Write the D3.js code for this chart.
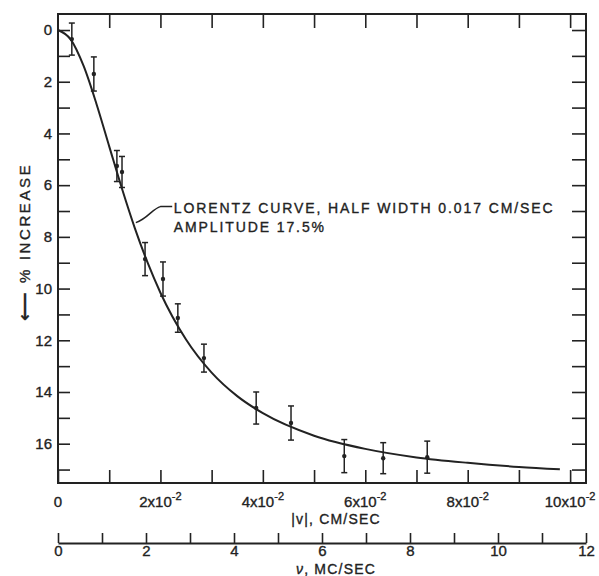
<!DOCTYPE html>
<html lang="en">
<head>
  <meta charset="UTF-8">
  <title>% increase vs |v|</title>
  <style>
    body { margin: 0; background: #fff; }
    svg text { font-family: "Liberation Sans Narrow", "Liberation Sans", Arial, sans-serif; fill: #222; stroke: #222; stroke-width: 0.35; }
    .axis path, .axis line { stroke: #222; fill: none; }
  </style>
  <script src="https://d3js.org/d3.v7.min.js"></script>
</head>
<body>
  <svg id="chart" width="599" height="576"></svg>
  <script>
    // measured points, |v| in units of 10^-2 cm/sec
    const velocity = [0.27, 0.70, 1.15, 1.25, 1.70, 2.05, 2.34, 2.85, 3.87, 4.55, 5.59, 6.35, 7.21];
    const increase = [0.35, 1.70, 5.26, 5.49, 8.86, 9.63, 11.14, 12.69, 14.62, 15.20, 16.48, 16.56, 16.52];
    const errorBar = [0.62, 0.66, 0.60, 0.60, 0.64, 0.66, 0.55, 0.54, 0.62, 0.66, 0.64, 0.60, 0.62];

    // Lorentz curve
    const curveV = [0, 0.25, 0.5, 0.75, 1.0, 1.25, 1.5, 1.75, 2.0, 2.5, 3.0, 3.5, 4.0, 5.0, 6.0, 7.0, 8.0, 9.0, 9.8];
    const curveY = [0, 0.37, 1.39, 2.85, 4.50, 6.14, 7.66, 9.00, 10.16, 11.97, 13.25, 14.16, 14.82, 15.69, 16.20, 16.53, 16.74, 16.90, 16.99];

    const xTickLabels = ["0", "2", "4", "6", "8", "10"];

    const svg = d3.select("#chart");
    const ink = "#222";

    const x = d3.scaleLinear().domain([0, 10.31]).range([58, 586]);
    const y = d3.scaleLinear().domain([-0.62, 17.52]).range([14, 483]);
    const nu = d3.scaleLinear().domain([0, 12]).range([58, 586]);

    // frame
    svg.append("rect")
      .attr("x", x(0)).attr("y", y(-0.62))
      .attr("width", x(10.31) - x(0)).attr("height", y(17.52) - y(-0.62))
      .attr("fill", "none").attr("stroke", ink).attr("stroke-width", 2);

    const noLabel = () => "";

    // inward ticks on all four sides
    svg.append("g").attr("class", "axis")
      .attr("transform", `translate(0,${y(17.52)})`)
      .call(d3.axisBottom(x).tickValues(d3.range(0, 11)).tickSize(-13).tickSizeOuter(0).tickFormat(noLabel))
      .call(g => g.select(".domain").remove())
      .selectAll("line").attr("stroke-width", 1.6);

    svg.append("g").attr("class", "axis")
      .attr("transform", `translate(0,${y(-0.62)})`)
      .call(d3.axisTop(x).tickValues(d3.range(1, 11)).tickSize(-14).tickSizeOuter(0).tickFormat(noLabel))
      .call(g => g.select(".domain").remove())
      .selectAll("line").attr("stroke-width", 1.6);

    const left = svg.append("g").attr("class", "axis")
      .attr("transform", `translate(${x(0)},0)`)
      .call(d3.axisLeft(y).tickValues(d3.range(0, 18)).tickSize(-12).tickSizeOuter(0).tickPadding(6)
        .tickFormat(d => d % 2 === 0 ? d : ""))
      .call(g => g.select(".domain").remove());
    left.selectAll("line").attr("stroke-width", 1.6);
    left.selectAll("text").attr("font-size", 15).attr("fill", ink);

    svg.append("g").attr("class", "axis")
      .attr("transform", `translate(${x(10.31)},0)`)
      .call(d3.axisRight(y).tickValues(d3.range(0, 18)).tickSize(-14).tickSizeOuter(0).tickFormat(noLabel))
      .call(g => g.select(".domain").remove())
      .selectAll("line").attr("stroke-width", 1.6);

    // bottom |v| labels with 10^-2 exponent
    const xl = svg.append("g").attr("font-size", 15);
    xTickLabels.forEach(lab => {
      const t = xl.append("text")
        .attr("x", x(+lab)).attr("y", 507)
        .attr("text-anchor", "middle");
      t.append("tspan").text(lab);
      if (lab !== "0") {
        t.append("tspan").text("x10");
        t.append("tspan").attr("dy", -7).attr("font-size", 11).text("-2");
      }
    });

    svg.append("text")
      .attr("x", 336).attr("y", 524)
      .attr("text-anchor", "middle").attr("font-size", 14).attr("letter-spacing", 1.2)
      .text("|v|, CM/SEC");

    // second scale: frequency
    const nuAxis = svg.append("g").attr("class", "axis")
      .attr("transform", "translate(0,543)")
      .call(d3.axisBottom(nu).tickValues(d3.range(0, 13)).tickSize(-10).tickSizeOuter(0).tickPadding(2)
        .tickFormat(d => d % 2 === 0 ? d : ""));
    nuAxis.select(".domain").attr("stroke-width", 2);
    nuAxis.selectAll("line").attr("stroke-width", 1.6);
    nuAxis.selectAll("text").attr("font-size", 15).attr("fill", ink);

    const nuTitle = svg.append("text")
      .attr("x", 336).attr("y", 574)
      .attr("text-anchor", "middle").attr("font-size", 14).attr("letter-spacing", 1.2);
    nuTitle.append("tspan").attr("font-style", "italic").text("ν");
    nuTitle.append("tspan").text(", MC/SEC");

    // y title, arrow pointing down the axis
    const yTitle = svg.append("text")
      .attr("transform", `translate(30,${y(8.2)}) rotate(-90)`)
      .attr("text-anchor", "middle").attr("font-size", 15).attr("letter-spacing", 2.6);
    yTitle.append("tspan").attr("font-size", 20).attr("dy", 1).text("⟵");
    yTitle.append("tspan").attr("dy", -1).text(" % INCREASE");

    // fitted curve
    const pts = curveV.map((v, i) => [v, curveY[i]]);
    svg.append("path")
      .datum(pts)
      .attr("fill", "none").attr("stroke", ink).attr("stroke-width", 2)
      .attr("d", d3.line().x(d => x(d[0])).y(d => y(d[1])).curve(d3.curveMonotoneX));

    // error bars
    const data = velocity.map((v, i) => ({ v, p: increase[i], e: errorBar[i] }));
    const bars = svg.append("g").attr("stroke", ink).attr("stroke-width", 1.5);
    bars.selectAll(".bar").data(data).enter().append("line")
      .attr("x1", d => x(d.v)).attr("x2", d => x(d.v))
      .attr("y1", d => y(d.p - d.e)).attr("y2", d => y(d.p + d.e));
    bars.selectAll(".capTop").data(data).enter().append("line")
      .attr("x1", d => x(d.v) - 3).attr("x2", d => x(d.v) + 3)
      .attr("y1", d => y(d.p - d.e)).attr("y2", d => y(d.p - d.e));
    bars.selectAll(".capBot").data(data).enter().append("line")
      .attr("x1", d => x(d.v) - 3).attr("x2", d => x(d.v) + 3)
      .attr("y1", d => y(d.p + d.e)).attr("y2", d => y(d.p + d.e));
    svg.append("g").selectAll("circle").data(data).enter().append("circle")
      .attr("cx", d => x(d.v)).attr("cy", d => y(d.p)).attr("r", 2.2).attr("fill", ink);

    // annotation and leader
    svg.append("path")
      .attr("fill", "none").attr("stroke", ink).attr("stroke-width", 1.5)
      .attr("d", `M${x(2.23)},${y(6.83)} L${x(2.0)},${y(6.83)} C${x(1.85)},${y(6.9)} ${x(1.75)},${y(7.3)} ${x(1.52)},${y(7.45)}`);

    const note = svg.append("g").attr("font-size", 14).attr("letter-spacing", 1.9);
    note.append("text").attr("x", x(2.26)).attr("y", y(7.07)).text("LORENTZ CURVE, HALF WIDTH 0.017 CM/SEC");
    note.append("text").attr("x", x(2.26)).attr("y", y(7.8)).text("AMPLITUDE 17.5%");
  </script>
</body>
</html>
